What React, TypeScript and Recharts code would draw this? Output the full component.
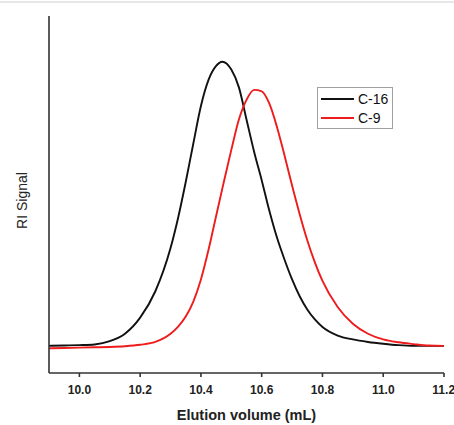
import { LineChart, Line, XAxis, YAxis, Legend } from "recharts";

// elution volume (mL) and normalised RI signal
const volume = [
  9.9, 9.95, 10.0, 10.05, 10.1, 10.15, 10.2, 10.25, 10.3, 10.325, 10.35, 10.375,
  10.4, 10.425, 10.45, 10.47, 10.5, 10.525, 10.55, 10.575, 10.6, 10.625, 10.65,
  10.675, 10.7, 10.725, 10.75, 10.775, 10.8, 10.85, 10.9, 10.95, 11.0, 11.05,
  11.1, 11.15, 11.2,
];
const c16 = [
  0.076, 0.077, 0.078, 0.08, 0.089, 0.11, 0.155, 0.229, 0.35, 0.435, 0.535,
  0.643, 0.748, 0.821, 0.86, 0.872, 0.85, 0.8, 0.71, 0.62, 0.54, 0.455, 0.38,
  0.318, 0.262, 0.215, 0.178, 0.15, 0.129, 0.105, 0.094, 0.087, 0.082, 0.078,
  0.076, 0.076, 0.076,
];
const c9 = [
  0.069, 0.07, 0.071, 0.072, 0.073, 0.075, 0.079, 0.087, 0.11, 0.13, 0.158,
  0.2, 0.262, 0.345, 0.44, 0.515, 0.625, 0.71, 0.765, 0.793, 0.789, 0.755, 0.69,
  0.61, 0.525, 0.445, 0.372, 0.31, 0.258, 0.185, 0.138, 0.11, 0.094, 0.086,
  0.081, 0.077, 0.076,
];
const xTicks = [10.0, 10.2, 10.4, 10.6, 10.8, 11.0, 11.2];

const series = [
  { key: "c16", name: "C-16", color: "#111111" },
  { key: "c9", name: "C-9", color: "#ee1c1c" },
];

const data = volume.map((v, i) => ({ v, c16: c16[i], c9: c9[i] }));

function LegendBox() {
  return (
    <div
      style={{
        border: "1px solid #a0a0a0",
        width: 74,
        height: 38,
        padding: "1px 0",
        fontFamily: "Liberation Sans, Arial, sans-serif",
        fontSize: 14,
        color: "#111",
        background: "#fff",
      }}
    >
      {series.map((s) => (
        <div key={s.key} style={{ display: "flex", alignItems: "center", height: 19 }}>
          <span
            style={{
              display: "inline-block",
              width: 33,
              height: 0,
              borderTop: `2px solid ${s.color}`,
              marginLeft: 3,
              marginRight: 4,
            }}
          />
          <span>{s.name}</span>
        </div>
      ))}
    </div>
  );
}

export default function App() {
  return (
    <div style={{ position: "absolute", left: 0, top: 0, width: 454, height: 425, background: "#fff" }}>
      <div style={{ position: "absolute", left: 0, top: 1, width: 454, height: 2, background: "#e6e6e6" }} />
      <LineChart
        width={454}
        height={425}
        data={data}
        margin={{ top: 16, right: 10, left: 0, bottom: 0 }}
        style={{ fontFamily: "Liberation Sans, Arial, sans-serif" }}
      >
        <XAxis
          dataKey="v"
          type="number"
          domain={[9.9, 11.2]}
          ticks={xTicks}
          tickFormatter={(t: number) => t.toFixed(1)}
          allowDataOverflow
          height={52}
          stroke="#333"
          strokeWidth={1.6}
          tickSize={4}
          tick={{ fill: "#222", fontSize: 12, fontWeight: "bold" }}
          tickMargin={8}
          label={{
            value: "Elution volume (mL)",
            position: "insideBottom",
            offset: 5,
            fill: "#222",
            fontSize: 14.5,
            fontWeight: "bold",
          }}
        />
        <YAxis
          type="number"
          domain={[0, 1]}
          width={49}
          tick={false}
          tickLine={false}
          stroke="#333"
          strokeWidth={1.6}
          label={{
            value: "RI Signal",
            angle: -90,
            position: "insideLeft",
            offset: 22,
            dy: 6,
            fill: "#222",
            fontSize: 14,
            style: { textAnchor: "middle" },
          }}
        />
        <Legend
          layout="horizontal"
          verticalAlign="middle"
          align="center"
          content={<LegendBox />}
          wrapperStyle={{ position: "absolute", left: 317, top: 87, width: "auto" }}
        />
        {series.map((s) => (
          <Line
            key={s.key}
            dataKey={s.key}
            name={s.name}
            type="monotone"
            stroke={s.color}
            strokeWidth={1.9}
            dot={false}
            isAnimationActive={false}
          />
        ))}
      </LineChart>
    </div>
  );
}
